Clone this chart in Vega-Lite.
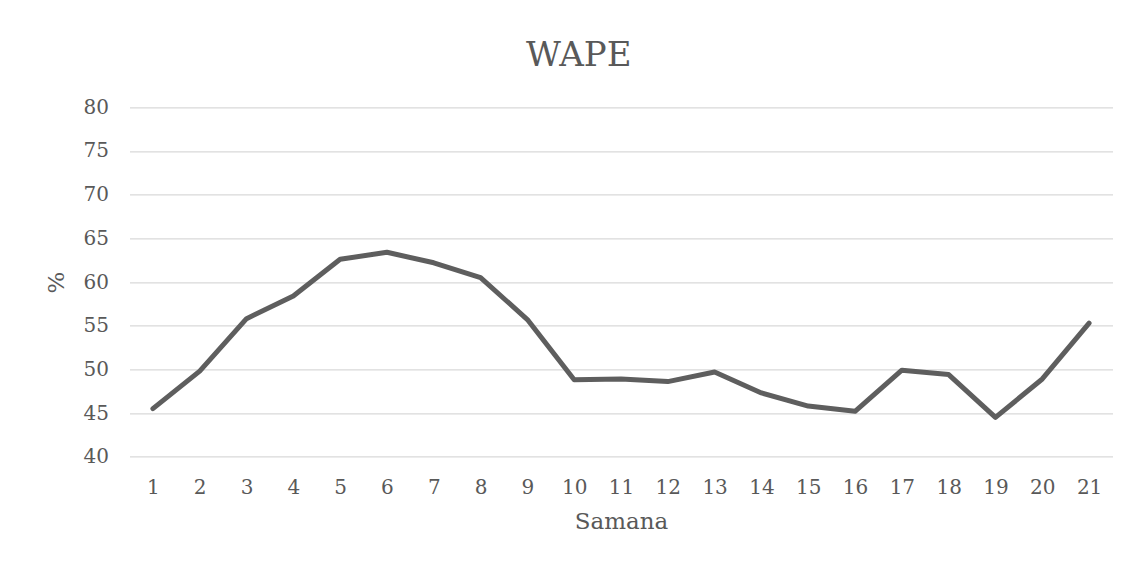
{
  "$schema": "https://vega.github.io/schema/vega-lite/v6.json",
  "width": 983,
  "height": 349.4,
  "autosize": {"type": "none"},
  "padding": {"left": 129.5, "top": 107.3, "right": 20.5, "bottom": 105.3},
  "background": "white",
  "title": {
    "text": "WAPE",
    "frame": "bounds",
    "anchor": "middle",
    "baseline": "alphabetic",
    "offset": -3,
    "font": "DejaVu Serif",
    "fontSize": 34,
    "fontWeight": "normal",
    "color": "#595959"
  },
  "data": {
    "values": [
      {"semana": 1, "wape": 45.5},
      {"semana": 2, "wape": 49.8},
      {"semana": 3, "wape": 55.8},
      {"semana": 4, "wape": 58.4},
      {"semana": 5, "wape": 62.6},
      {"semana": 6, "wape": 63.4},
      {"semana": 7, "wape": 62.2},
      {"semana": 8, "wape": 60.5},
      {"semana": 9, "wape": 55.7},
      {"semana": 10, "wape": 48.8},
      {"semana": 11, "wape": 48.9},
      {"semana": 12, "wape": 48.6},
      {"semana": 13, "wape": 49.7},
      {"semana": 14, "wape": 47.3},
      {"semana": 15, "wape": 45.8},
      {"semana": 16, "wape": 45.2},
      {"semana": 17, "wape": 49.9},
      {"semana": 18, "wape": 49.4},
      {"semana": 19, "wape": 44.5},
      {"semana": 20, "wape": 48.9},
      {"semana": 21, "wape": 55.3}
    ]
  },
  "mark": {
    "type": "line",
    "color": "#5e5e5e",
    "strokeWidth": 5,
    "strokeCap": "round",
    "strokeJoin": "round"
  },
  "encoding": {
    "x": {
      "field": "semana",
      "type": "ordinal",
      "scale": {"type": "point", "padding": 0.5},
      "axis": {
        "title": "Samana",
        "labelAngle": 0,
        "grid": false,
        "domain": false,
        "ticks": false,
        "labelPadding": 21,
        "titlePadding": 13
      }
    },
    "y": {
      "field": "wape",
      "type": "quantitative",
      "scale": {"domain": [40, 80], "nice": false, "zero": false},
      "axis": {
        "title": "%",
        "values": [40, 45, 50, 55, 60, 65, 70, 75, 80],
        "domain": false,
        "ticks": false,
        "grid": true,
        "labelPadding": 21,
        "titlePadding": 15
      }
    }
  },
  "config": {
    "view": {"stroke": null},
    "axis": {
      "labelFont": "DejaVu Serif",
      "labelFontSize": 20,
      "labelColor": "#595959",
      "titleFont": "DejaVu Serif",
      "titleFontSize": 23,
      "titleFontWeight": "normal",
      "titleColor": "#595959",
      "gridColor": "#d9d9d9",
      "gridWidth": 1.3,
      "gridOpacity": 1
    }
  }
}
